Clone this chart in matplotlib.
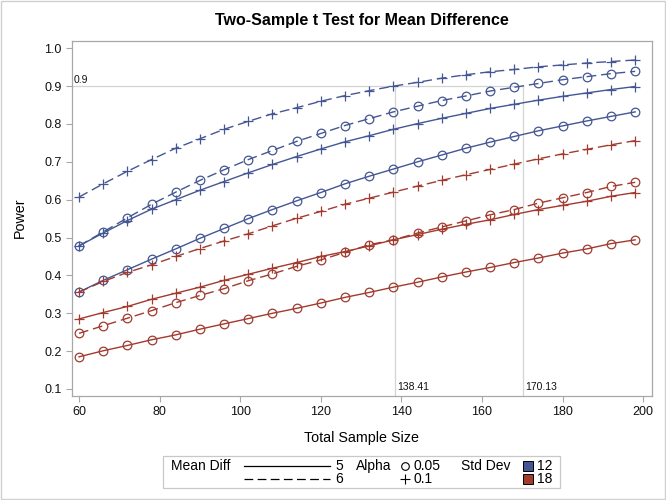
import matplotlib
matplotlib.use("Agg")
import matplotlib.pyplot as plt
from matplotlib.lines import Line2D
from matplotlib.patches import Rectangle

plt.rcParams['font.family'] = ['Liberation Sans', 'DejaVu Sans']

sample_size = [60, 66, 72, 78, 84, 90, 96, 102, 108, 114, 120, 126,
               132, 138, 144, 150, 156, 162, 168, 174, 180, 186, 192, 198]

# power curves: (mean diff, alpha, std dev)
p_md6_a10_sd12 = [0.607, 0.642, 0.675, 0.706, 0.736, 0.761, 0.786, 0.807, 0.827, 0.843, 0.860, 0.875,
                  0.888, 0.900, 0.910, 0.921, 0.930, 0.938, 0.944, 0.951, 0.956, 0.961, 0.965, 0.969]
p_md6_a05_sd12 = [0.478, 0.515, 0.552, 0.588, 0.620, 0.651, 0.679, 0.706, 0.730, 0.754, 0.775, 0.796,
                  0.814, 0.832, 0.847, 0.862, 0.874, 0.887, 0.897, 0.907, 0.917, 0.925, 0.933, 0.939]
p_md5_a10_sd12 = [0.478, 0.512, 0.545, 0.575, 0.600, 0.625, 0.648, 0.671, 0.693, 0.714, 0.734, 0.753,
                  0.769, 0.786, 0.801, 0.815, 0.828, 0.841, 0.852, 0.863, 0.873, 0.882, 0.891, 0.899]
p_md5_a05_sd12 = [0.356, 0.387, 0.415, 0.443, 0.470, 0.498, 0.524, 0.550, 0.574, 0.597, 0.619, 0.642,
                  0.662, 0.681, 0.700, 0.718, 0.736, 0.752, 0.767, 0.782, 0.795, 0.808, 0.820, 0.832]
p_md6_a10_sd18 = [0.356, 0.384, 0.408, 0.428, 0.450, 0.471, 0.491, 0.510, 0.531, 0.551, 0.569, 0.588,
                  0.604, 0.620, 0.636, 0.651, 0.666, 0.680, 0.694, 0.708, 0.721, 0.733, 0.745, 0.756]
p_md5_a10_sd18 = [0.285, 0.302, 0.318, 0.337, 0.353, 0.369, 0.387, 0.403, 0.419, 0.434, 0.450, 0.463,
                  0.478, 0.494, 0.508, 0.522, 0.535, 0.547, 0.561, 0.574, 0.585, 0.596, 0.609, 0.619]
p_md6_a05_sd18 = [0.247, 0.267, 0.287, 0.307, 0.328, 0.347, 0.365, 0.386, 0.404, 0.424, 0.441, 0.461,
                  0.481, 0.494, 0.512, 0.528, 0.544, 0.560, 0.574, 0.591, 0.605, 0.619, 0.635, 0.646]
p_md5_a05_sd18 = [0.185, 0.201, 0.215, 0.230, 0.243, 0.258, 0.272, 0.286, 0.300, 0.313, 0.327, 0.342,
                  0.355, 0.369, 0.382, 0.396, 0.409, 0.421, 0.434, 0.446, 0.459, 0.470, 0.484, 0.494]

series = [
    (5, 0.05, 12, p_md5_a05_sd12),
    (5, 0.1, 12, p_md5_a10_sd12),
    (6, 0.05, 12, p_md6_a05_sd12),
    (6, 0.1, 12, p_md6_a10_sd12),
    (5, 0.05, 18, p_md5_a05_sd18),
    (5, 0.1, 18, p_md5_a10_sd18),
    (6, 0.05, 18, p_md6_a05_sd18),
    (6, 0.1, 18, p_md6_a10_sd18),
]

target_power = 0.9
ref_sizes = [138.41, 170.13]
ref_labels = ["138.41", "170.13"]

x_ticks = [60, 80, 100, 120, 140, 160, 180, 200]
y_ticks = [0.1, 0.2, 0.3, 0.4, 0.5, 0.6, 0.7, 0.8, 0.9, 1.0]

colors = {12: '#445694', 18: '#A23A2E'}
dash = (0, (7, 3.5))
styles = {5: '-', 6: dash}
markers = {0.05: 'o', 0.1: '+'}

XMIN, XMAX = 58.26, 202.1
YMIN, YMAX = 0.0823, 1.020

fig = plt.figure(figsize=(6.66, 5.0), dpi=100)
ax = fig.add_axes([72 / 666, 1 - 395.7 / 500, (651.7 - 72) / 666, (395.7 - 40.7) / 500])

ref_col = '#d4d4d4'
ax.plot([XMIN, ref_sizes[1]], [target_power, target_power], color=ref_col, lw=0.9, zorder=1)
for rs in ref_sizes:
    ax.plot([rs, rs], [YMIN, target_power], color=ref_col, lw=0.9, zorder=1)

for md, a, sd, vals in series:
    m = markers[a]
    ax.plot(sample_size, vals, color=colors[sd], linestyle=styles[md], lw=1.0,
            marker=m, markersize=6.2 if m == 'o' else 7.5, markerfacecolor='none',
            markeredgecolor=colors[sd], markeredgewidth=0.9, zorder=3)

ax.set_xlim(XMIN, XMAX)
ax.set_ylim(YMIN, YMAX)
ax.set_xticks(x_ticks)
ax.set_yticks(y_ticks)
ax.set_yticklabels([f"{v:.1f}" for v in y_ticks])

for sp in ax.spines.values():
    sp.set_color('#a8a8a8')
    sp.set_linewidth(0.9)
ax.tick_params(direction='out', length=4.5, width=0.8, color='#a8a8a8',
               labelsize=9, labelcolor='#111111', pad=3)

ax.text(58.6, target_power + 0.004, "0.9", fontsize=7.5, color='#111111', ha='left', va='bottom')
for rs, lab in zip(ref_sizes, ref_labels):
    ax.text(rs + 0.5, 0.092, lab, fontsize=7.5, color='#111111', ha='left', va='bottom')

fig.text(0.5 * (72 + 651.7) / 666, 1 - 20 / 500, "Two-Sample t Test for Mean Difference",
         ha='center', va='center', fontsize=11.5, fontweight='bold')
fig.text(0.5 * (72 + 651.7) / 666, 1 - 438 / 500, "Total Sample Size", ha='center', va='center', fontsize=10.3)
fig.text(20 / 666, 1 - 218 / 500, "Power", ha='center', va='center', fontsize=10.3, rotation=90)

# legend
W, H = 666.0, 500.0
def fx(px):
    return px / W
def fy(py):
    return 1 - py / H

fig.patches.append(Rectangle((fx(163), fy(487.7)), fx(560) - fx(163), fy(456) - fy(487.7),
                             transform=fig.transFigure, fill=False, edgecolor='#c8c8c8', lw=0.9))
r1, r2 = 466, 479
leg_fs = 10
fig.text(fx(171), fy(r1), "Mean Diff", fontsize=leg_fs, va='center', ha='left')
fig.lines.append(Line2D([fx(244), fx(330)], [fy(r1), fy(r1)], transform=fig.transFigure,
                        color='black', lw=0.9))
fig.lines.append(Line2D([fx(244), fx(330)], [fy(r2), fy(r2)], transform=fig.transFigure,
                        color='black', lw=0.9, linestyle=dash))
fig.text(fx(335), fy(r1), "5", fontsize=leg_fs, va='center', ha='left')
fig.text(fx(335), fy(r2), "6", fontsize=leg_fs, va='center', ha='left')
fig.text(fx(356), fy(r1), "Alpha", fontsize=leg_fs, va='center', ha='left')
fig.lines.append(Line2D([fx(405)], [fy(r1)], transform=fig.transFigure, marker='o', markersize=5.5,
                        markerfacecolor='none', markeredgecolor='black', markeredgewidth=0.8))
fig.lines.append(Line2D([fx(405)], [fy(r2)], transform=fig.transFigure, marker='+', markersize=7,
                        markeredgecolor='black', markeredgewidth=0.8))
fig.text(fx(414), fy(r1), "0.05", fontsize=leg_fs, va='center', ha='left')
fig.text(fx(414), fy(r2), "0.1", fontsize=leg_fs, va='center', ha='left')
fig.text(fx(461), fy(r1), "Std Dev", fontsize=leg_fs, va='center', ha='left')
for ry, sd in ((r1, 12), (r2, 18)):
    fig.patches.append(Rectangle((fx(523), fy(ry + 5)), fx(533) - fx(523), fy(ry - 5) - fy(ry + 5),
                                 transform=fig.transFigure, facecolor=colors[sd], edgecolor='black', lw=0.7))
    fig.text(fx(537), fy(ry), str(sd), fontsize=leg_fs, va='center', ha='left')

# outer frame
fig.patches.append(Rectangle((0.002, 0.002), 0.996, 0.996, transform=fig.transFigure,
                             fill=False, edgecolor='#d0d0d0', lw=1.0))

fig.savefig("out.png", dpi=100)
